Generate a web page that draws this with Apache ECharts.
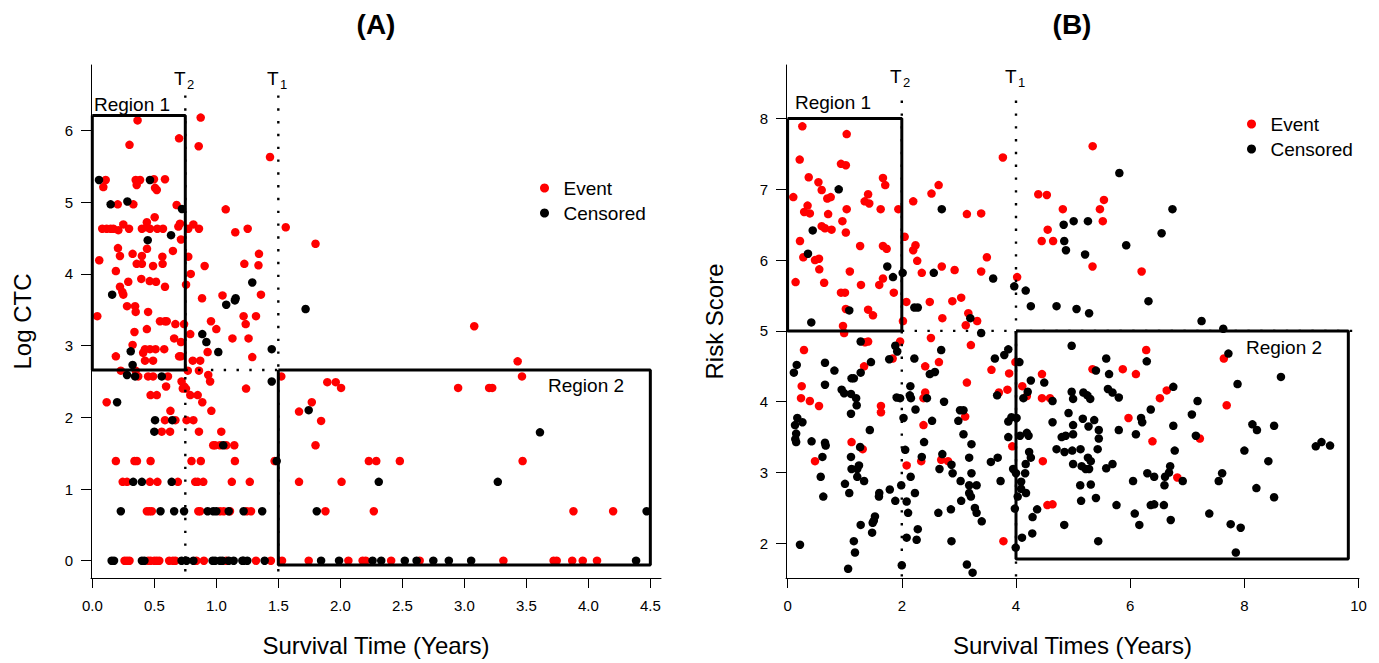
<!DOCTYPE html>
<html><head><meta charset="utf-8">
<script src="https://cdn.jsdelivr.net/npm/echarts@6/dist/echarts.min.js"></script>
<style>html,body{margin:0;padding:0;background:#fff}#c{width:1379px;height:663px}</style>
</head><body><div id="c"></div>
<script>
// ---------- Panel A: Log CTC vs survival time ----------
const aEvent = [
[0.365,6.14],[0.874,6.18],[0.70,5.89],[0.30,5.80],[0.858,5.78],[1.433,5.63],
[0.108,5.31],[0.35,5.31],[0.385,5.31],[0.497,5.32],[0.586,5.32],
[0.089,5.21],[0.358,5.24],[0.506,5.20],[0.52,5.17],
[0.205,4.97],[0.331,4.97],[0.68,4.96],[1.076,4.90],
[0.503,4.79],[0.44,4.72],[0.25,4.69],
[0.08,4.63],[0.116,4.63],[0.148,4.63],[0.17,4.63],[0.21,4.61],[0.296,4.63],[0.40,4.63],[0.44,4.65],[0.465,4.63],[0.524,4.63],[0.57,4.63],[0.694,4.66],[0.707,4.70],[0.774,4.63],[0.815,4.69],[0.86,4.63],
[0.715,4.48],[1.153,4.58],[1.253,4.63],
[0.207,4.36],[0.441,4.35],[0.223,4.25],[0.325,4.28],[0.40,4.25],[0.565,4.24],[0.65,4.32],[0.774,4.24],[1.344,4.28],
[0.056,4.19],[0.358,4.14],[0.40,4.14],[0.49,4.11],[0.567,4.14],[0.906,4.11],[1.226,4.14],[1.34,4.12],
[0.19,4.04],[0.794,4.0],[0.395,3.93],[0.29,3.89],[0.463,3.90],[0.514,3.89],[0.586,3.82],[0.223,3.82],[0.242,3.75],[0.25,3.71],[0.756,3.85],[1.36,3.71],[1.05,3.70],[0.885,3.66],
[0.28,3.55],[0.345,3.55],[0.35,3.47],[0.45,3.47],[0.04,3.41],[1.22,3.41],[1.32,3.41],
[0.546,3.34],[0.586,3.34],[0.6,3.34],[0.67,3.30],[0.74,3.30],[0.957,3.34],[1.237,3.30],
[0.44,3.23],[1.0,3.23],[0.34,3.19],[0.79,3.16],[0.66,3.10],[1.13,3.10],[1.26,3.10],[0.715,3.05],[0.325,3.01],
[0.425,2.95],[0.465,2.95],[0.51,2.95],[0.58,2.95],[0.93,2.91],[0.41,2.90],[0.19,2.85],[0.70,2.85],[0.715,2.85],[1.29,2.84],
[0.425,2.79],[0.49,2.79],[0.81,2.79],[0.87,2.79],
[0.23,2.65],[0.35,2.65],[0.77,2.65],[0.86,2.65],
[0.935,2.59],[0.37,2.57],[0.45,2.57],[0.49,2.57],[0.61,2.57],
[0.95,2.50],[0.72,2.50],[0.74,2.43],[0.595,2.43],[0.73,2.40],[0.755,2.40],[1.24,2.40],
[0.47,2.31],[0.52,2.31],[0.79,2.31],[0.85,2.31],
[0.116,2.21],[0.887,2.21],[0.63,2.09],[0.96,2.09],
[0.586,1.96],[0.67,1.96],[0.76,1.96],[0.815,1.96],
[0.56,1.80],[0.627,1.80],[0.86,1.80],[1.04,1.80],
[0.975,1.61],[0.99,1.61],[1.03,1.61],[1.08,1.61],[1.145,1.61],
[0.19,1.39],[0.34,1.39],[0.36,1.39],[0.47,1.39],[0.80,1.39],[0.875,1.39],[1.15,1.39],[1.47,1.39],
[0.245,1.1],[0.28,1.1],[0.465,1.1],[0.525,1.1],[0.69,1.1],[0.83,1.1],[0.85,1.1],[0.895,1.1],[1.125,1.1],[1.27,1.1],
[0.44,0.69],[0.46,0.69],[0.48,0.69],[0.855,0.69],[0.87,0.69],[1.03,0.69],[1.06,0.69],[1.11,0.69],[1.245,0.69],[1.28,0.69],
[0.26,0],[0.28,0],[0.30,0],[0.45,0],[0.47,0],[0.50,0],[0.52,0],[0.54,0],[0.62,0],[0.65,0],[0.67,0],[0.84,0],[0.90,0],[1.08,0],[1.32,0],[1.44,0],
[1.56,4.65],[1.80,4.42],[3.08,3.27],[3.43,2.78],[3.465,2.57],[1.524,2.57],[1.895,2.49],[1.963,2.49],[2.006,2.41],[2.95,2.41],[3.20,2.41],[3.225,2.41],
[1.77,2.21],[1.667,2.08],[1.845,1.95],[1.80,1.61],
[1.667,1.1],[2.01,1.1],[2.23,1.39],[2.29,1.39],[2.48,1.39],[3.47,1.39],
[1.88,0.69],[2.27,0.69],[3.88,0.69],[4.2,0.69],
[1.53,0],[1.745,0],[2.065,0],[2.18,0],[2.205,0],[2.41,0],[2.64,0],[3.315,0],[3.72,0],[3.745,0],[3.87,0],[3.955,0],[4.07,0]
];
const aCensored = [
[0.054,5.31],[0.465,5.31],[0.148,4.97],[0.283,5.01],[0.723,4.905],[0.635,4.54],[0.447,4.47],[1.29,3.88],[1.156,3.66],
[0.16,3.71],[1.08,3.57],[1.15,3.63],[0.887,3.16],[0.92,3.05],[1.016,2.91],[1.447,2.95],[0.31,2.92],[0.325,2.73],[0.28,2.59],[0.345,2.57],[0.56,2.57],[1.447,2.50],[0.20,2.21],
[1.72,3.51],[1.745,2.10],[3.61,1.79],
[0.506,1.96],[0.645,1.96],[0.50,1.80],[1.056,1.61],[1.487,1.39],
[0.33,1.1],[0.40,1.1],[0.64,1.1],[2.31,1.1],[3.27,1.1],
[0.23,0.69],[0.55,0.69],[0.66,0.69],[0.74,0.69],[0.93,0.69],[0.975,0.69],[1.0,0.69],[1.10,0.69],[1.22,0.69],[1.37,0.69],[1.81,0.69],[4.47,0.69],
[0.156,0],[0.175,0],[0.40,0],[0.42,0],[0.72,0],[0.76,0],[0.815,0],[0.97,0],[0.99,0],[1.03,0],[1.05,0],[1.10,0],[1.14,0],[1.21,0],[1.22,0],[1.25,0],[1.39,0],
[1.845,0],[1.99,0],[2.26,0],[2.33,0],[2.52,0],[2.615,0],[2.75,0],[2.875,0],[3.055,0],[4.385,0]
];
// ---------- Panel B: Risk score vs survival times ----------
const bEvent = [
[0.258,7.89],[1.035,7.78],[0.212,7.42],[0.935,7.36],[1.02,7.34],[3.77,7.45],[0.37,7.17],[0.54,7.10],[0.597,6.99],[0.10,6.89],[0.695,6.87],[0.755,6.89],[1.41,6.93],[1.35,6.83],[1.43,6.80],[1.67,7.16],[1.71,7.06],[0.35,6.77],[0.29,6.68],[0.39,6.66],[0.71,6.65],[1.035,6.72],[1.63,6.72],[1.94,6.72],[2.20,6.83],[2.52,6.94],[2.645,7.06],[3.14,6.65],[3.39,6.66],
[0.597,6.48],[0.655,6.45],[0.77,6.43],[0.96,6.55],[1.02,6.39],[0.217,6.27],[0.275,6.04],[0.48,6.00],[0.55,6.02],[0.555,5.87],[1.27,6.20],[1.67,6.20],[1.735,6.16],[2.05,6.33],[2.24,6.21],[2.20,6.14],[2.27,5.99],[3.49,6.04],
[0.14,5.69],[0.64,5.68],[1.09,5.84],[1.67,5.74],[1.285,5.65],[1.605,5.65],[2.35,5.82],[2.70,5.91],[2.925,5.86],[3.39,5.84],[4.02,5.76],
[0.935,5.54],[1.005,5.54],[1.86,5.54],[2.08,5.41],[2.49,5.41],[2.885,5.42],[3.04,5.47],[1.02,5.31],[1.41,5.30],[1.495,5.22],[0.97,5.07],[2.02,5.14],[2.71,5.18],[3.165,5.25],[3.12,5.08],[3.32,5.14],
[5.343,7.61],[4.39,6.93],[4.54,6.92],[5.54,6.85],[4.82,6.72],[5.47,6.72],[5.52,6.55],[4.555,6.43],[4.45,6.27],[4.65,6.27],[5.34,5.91],[6.20,5.84],
[0.99,4.97],[2.51,4.90],[3.21,4.80],[1.355,4.84],[1.41,4.85],[0.287,4.73],[1.97,4.85],[1.84,4.61],[3.99,4.56],[1.34,4.50],[2.41,4.50],[2.65,4.56],[3.57,4.45],[3.88,4.40],[0.247,4.22],[3.14,4.27],[0.235,4.05],[0.39,4.01],[0.55,3.94],[2.38,4.05],[2.41,4.13],[3.70,4.13],[3.85,4.17],[1.635,3.94],[1.635,3.85],[3.11,3.79],[2.38,3.67],[1.12,3.43],[3.935,3.37],[1.315,3.33],[0.48,3.16],[2.34,3.16],[2.69,3.18],[2.81,3.16],[2.085,3.10],[3.78,2.03],
[6.28,4.73],[7.64,4.61],[5.34,4.46],[5.87,4.46],[6.10,4.39],[4.455,4.39],[4.11,4.22],[6.64,4.16],[6.52,4.05],[4.19,4.08],[4.455,4.05],[4.595,4.05],[7.69,3.95],[5.97,3.77],[7.22,3.48],[6.39,3.44],[4.47,3.16],[6.825,2.93],[4.55,2.54],[4.64,2.55]
];
const bCensored = [
[0.895,7.00],[2.70,6.72],[0.44,6.42],[0.357,6.09],[1.746,5.91],[1.846,5.76],[2.015,5.82],[2.56,5.82],[3.60,5.74],[3.97,5.63],[2.22,5.33],[2.28,5.33],[1.08,5.29],[0.415,5.12],[3.20,5.18],
[5.81,7.23],[6.74,6.72],[4.835,6.50],[5.01,6.55],[5.26,6.55],[4.845,6.27],[4.875,6.14],[5.21,6.08],[5.93,6.21],[6.55,6.38],[4.17,5.57],[4.26,5.35],[4.71,5.35],[5.06,5.31],[5.28,5.25],[6.32,5.42],[7.25,5.14],[7.63,5.03],
[3.39,4.97],[1.28,4.85],[1.886,4.79],[1.92,4.71],[2.69,4.73],[3.865,4.74],[3.795,4.66],[1.78,4.60],[2.22,4.61],[1.46,4.56],[3.63,4.61],[0.16,4.52],[0.11,4.41],[0.655,4.55],[0.82,4.44],[1.28,4.41],[2.58,4.42],[2.49,4.39],[1.12,4.33],[1.16,4.33],[0.655,4.24],[2.15,4.22],[0.947,4.17],[0.99,4.12],[1.11,4.11],[1.20,4.05],[1.91,4.06],[1.97,4.05],[2.14,4.09],[2.16,4.05],[2.44,4.05],[2.74,4.00],[3.67,4.09],
[1.21,3.95],[1.11,3.83],[2.24,3.89],[2.03,3.77],[3.02,3.88],[3.08,3.88],[2.99,3.73],[2.53,3.73],[0.17,3.77],[0.13,3.67],[0.26,3.71],[3.865,3.72],[3.92,3.78],[1.44,3.60],[0.15,3.55],[0.135,3.47],[0.15,3.43],[0.42,3.44],[0.655,3.42],[0.667,3.38],[3.08,3.54],[3.865,3.50],[2.39,3.43],[3.22,3.40],[1.27,3.36],[2.06,3.32],
[0.61,3.22],[1.11,3.22],[2.35,3.22],[2.71,3.26],[2.87,3.11],[3.18,3.21],[3.56,3.15],[3.68,3.21],[1.12,3.05],[1.25,3.10],[1.22,3.05],[2.66,3.05],[3.95,3.05],[4.0,2.99],[0.58,2.94],[1.22,2.94],[1.34,2.88],[2.155,2.94],[2.89,2.99],[3.22,2.99],[1.005,2.84],[3.03,2.88],[3.18,2.82],[3.31,2.82],[3.73,2.88],[1.99,2.82],[1.79,2.76],
[1.08,2.71],[1.605,2.71],[1.60,2.66],[0.625,2.66],[2.23,2.71],[1.886,2.60],[2.085,2.59],[3.18,2.71],[3.21,2.66],[3.04,2.60],[2.86,2.48],[2.64,2.43],[3.28,2.50],[3.31,2.43],[3.40,2.31],[2.11,2.43],[1.53,2.38],[1.51,2.32],[1.49,2.29],[1.28,2.26],[1.48,2.15],[2.28,2.20],[2.085,2.08],[2.26,2.05],[2.87,2.03],[1.16,2.03],[0.217,1.98],[1.18,1.87],[2.0,1.69],[1.06,1.64],[3.14,1.70],[3.24,1.585],[3.995,1.94],
[4.975,4.79],[7.72,4.68],[5.58,4.61],[6.29,4.57],[4.06,4.56],[5.40,4.44],[5.63,4.39],[4.495,4.27],[4.26,4.30],[7.88,4.25],[8.64,4.35],[6.755,4.21],[5.61,4.18],[5.69,4.13],[5.80,4.06],[4.975,4.14],[5.00,4.04],[5.18,4.13],[5.25,4.09],[5.30,4.04],[4.205,4.14],[4.13,4.05],[4.64,4.01],[7.18,4.01],
[6.36,3.89],[7.08,3.82],[4.92,3.84],[6.19,3.77],[6.21,3.71],[5.17,3.76],[5.37,3.74],[4.01,3.77],[4.64,3.71],[5.00,3.67],[5.27,3.65],[5.45,3.60],[5.80,3.60],[6.755,3.66],[8.14,3.68],[8.22,3.60],[8.52,3.66],[4.19,3.56],[4.22,3.52],[4.07,3.52],[4.87,3.52],[4.80,3.50],[5.00,3.54],[5.45,3.48],[6.10,3.54],[7.15,3.52],
[4.71,3.33],[4.85,3.29],[4.985,3.31],[5.13,3.33],[5.43,3.33],[4.23,3.29],[4.26,3.21],[6.78,3.31],[8.00,3.31],[9.25,3.37],[9.35,3.43],[9.50,3.38],[5.26,3.21],[5.31,3.16],[8.42,3.16],[4.17,3.12],[5.00,3.12],[5.15,3.09],[5.22,3.05],[5.28,3.05],[5.58,3.06],[5.69,3.12],[6.70,3.09],[6.68,3.00],
[4.16,2.99],[6.30,2.99],[6.42,2.94],[6.61,2.94],[6.60,2.82],[6.92,2.88],[7.61,2.99],[7.55,2.88],[6.05,2.88],[4.09,2.87],[4.09,2.77],[5.125,2.82],[5.31,2.83],[8.21,2.78],[8.52,2.65],[4.175,2.71],[4.03,2.66],[5.40,2.64],[5.14,2.60],[5.76,2.54],[6.36,2.54],[6.42,2.55],[6.59,2.54],
[3.98,2.49],[4.37,2.48],[4.29,2.37],[6.08,2.42],[7.385,2.42],[4.845,2.26],[6.16,2.26],[6.71,2.33],[7.76,2.27],[7.935,2.22],[4.285,2.14],[4.105,2.08],[5.44,2.03],[7.85,1.87]
];
// ---------- tick values ----------
const aXTicks = [0,0.5,1,1.5,2,2.5,3,3.5,4,4.5];
const aYTicks = [0,1,2,3,4,5,6];
const bXTicks = [0,2,4,6,8,10];
const bYTicks = [2,3,4,5,6,7,8];
// ---------- annotation geometry (data units) ----------
const aRegion1 = [[0,6.21],[0.75,6.21],[0.75,2.66],[0,2.66],[0,6.21]];
const aRegion2 = [[1.5,2.66],[4.5,2.66],[4.5,-0.06],[1.5,-0.06],[1.5,2.66]];
const aT2 = [[0.75,-0.15],[0.75,6.53]];
const aT1 = [[1.5,-0.15],[1.5,6.53]];
const aCut = [[0.75,2.66],[1.5,2.66]];
const bRegion1 = [[0,8],[2,8],[2,5],[0,5],[0,8]];
const bRegion2 = [[4,5],[9.82,5],[9.82,1.78],[4,1.78],[4,5]];
const bT2 = [[2,1.53],[2,8.36]];
const bT1 = [[4,1.53],[4,8.36]];
const bCut = [[2,5],[9.9,5]];

const FONT = '"Liberation Sans", Arial, Helvetica, sans-serif';
const chart = echarts.init(document.getElementById('c'), null, {renderer: 'svg'});

function xAxisDef(gi, min, max, ticks, fmt, name) {
  return {
    type: 'value', gridIndex: gi, min: min, max: max, splitLine: {show: false},
    axisLine: {show: true, onZero: false, lineStyle: {color: '#000', width: 1}},
    axisTick: {show: true, length: 10, lineStyle: {color: '#000'}, customValues: ticks},
    axisLabel: {show: true, customValues: ticks, formatter: fmt, color: '#000', fontSize: 15, fontFamily: FONT, margin: 20},
    name: name, nameLocation: 'middle', nameGap: 55,
    nameTextStyle: {fontSize: 24, color: '#000', fontFamily: FONT}
  };
}
function yAxisDef(gi, min, max, ticks, name, gap) {
  return {
    type: 'value', gridIndex: gi, min: min, max: max, splitLine: {show: false},
    axisLine: {show: true, onZero: false, lineStyle: {color: '#000', width: 1}},
    axisTick: {show: true, length: 10, lineStyle: {color: '#000'}, customValues: ticks},
    axisLabel: {show: true, customValues: ticks, formatter: v => String(Math.round(v)), color: '#000', fontSize: 15, fontFamily: FONT, margin: 18},
    name: name, nameLocation: 'middle', nameGap: gap,
    nameTextStyle: {fontSize: 24, color: '#000', fontFamily: FONT}
  };
}
function pts(name, data, gi, color) {
  return {name: name, type: 'scatter', xAxisIndex: gi, yAxisIndex: gi, data: data,
    symbol: 'circle', symbolSize: 8.5, itemStyle: {color: color, opacity: 1}, silent: true, z: 2};
}
function box(data, gi) {
  return {type: 'line', xAxisIndex: gi, yAxisIndex: gi, data: data, symbol: 'none', silent: true,
    lineStyle: {color: '#000', width: 3}, z: 4, animation: false};
}
function dots(data, gi) {
  return {type: 'line', xAxisIndex: gi, yAxisIndex: gi, data: data, symbol: 'none', silent: true,
    lineStyle: {color: '#000', width: 2.4, type: [2.4, 10.4], cap: 'butt'}, z: 3, animation: false};
}
function txt(x, y, s, size, opts) {
  return Object.assign({type: 'text', x: x, y: y, silent: true,
    style: {text: s, fontSize: size, fontFamily: FONT, fill: '#000', textAlign: 'left', textVerticalAlign: 'middle'}}, opts || {});
}
function legendDef(left, top) {
  return {orient: 'vertical', left: left, top: top, data: ['Event', 'Censored'], icon: 'circle',
    itemWidth: 28, itemHeight: 9, itemGap: 3, selectedMode: false,
    textStyle: {fontSize: 19, fontFamily: FONT, color: '#000', lineHeight: 22}};
}

const option = {
  backgroundColor: '#fff',
  animation: false,
  grid: [
    {left: 91, top: 65, width: 570, height: 513},
    {left: 786, top: 65, width: 573, height: 513}
  ],
  xAxis: [
    xAxisDef(0, -0.0105, 4.586, aXTicks, v => v.toFixed(1), 'Survival Time (Years)'),
    xAxisDef(1, -0.028, 10.007, bXTicks, v => String(Math.round(v)), 'Survival Times (Years)')
  ],
  yAxis: [
    yAxisDef(0, -0.241, 6.913, aYTicks, 'Log CTC', 57),
    yAxisDef(1, 1.51, 8.756, bYTicks, 'Risk Score', 60)
  ],
  legend: [legendDef(535, 172), legendDef(1242, 108)],
  series: [
    pts('Event', aEvent, 0, '#FF0000'),
    pts('Censored', aCensored, 0, '#000000'),
    pts('Event', bEvent, 1, '#FF0000'),
    pts('Censored', bCensored, 1, '#000000'),
    box(aRegion1, 0), box(aRegion2, 0), dots(aT2, 0), dots(aT1, 0), dots(aCut, 0),
    box(bRegion1, 1), box(bRegion2, 1), dots(bT2, 1), dots(bT1, 1), dots(bCut, 1)
  ],
  graphic: [
    txt(376, 24, '(A)', 28, {style: {text: '(A)', fontSize: 28, fontWeight: 'bold', fontFamily: FONT, fill: '#000', textAlign: 'center', textVerticalAlign: 'middle'}}),
    txt(1072, 24, '(B)', 28, {style: {text: '(B)', fontSize: 28, fontWeight: 'bold', fontFamily: FONT, fill: '#000', textAlign: 'center', textVerticalAlign: 'middle'}}),
    txt(94, 104, 'Region 1', 19),
    txt(548, 385, 'Region 2', 19),
    txt(795, 102, 'Region 1', 19),
    txt(1246, 347, 'Region 2', 19),
    txt(174, 78, 'T', 19),
    txt(187, 84, '2', 13),
    txt(267, 78, 'T', 19),
    txt(280, 84, '1', 13),
    txt(890, 76, 'T', 19),
    txt(903, 82, '2', 13),
    txt(1005, 76, 'T', 19),
    txt(1018, 82, '1', 13)
  ]
};
chart.setOption(option);
</script>
</body></html>
